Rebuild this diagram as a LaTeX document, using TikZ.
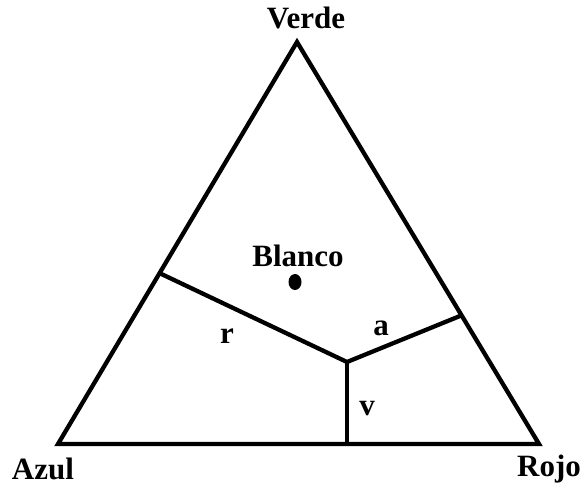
\documentclass[tikz,border=0pt]{standalone}
\usepackage{fontspec}
\setmainfont{Liberation Serif}
\usepackage{tikz}
\usetikzlibrary{positioning,calc}

\begin{document}
\begin{tikzpicture}[x=1pt, y=-1pt, every node/.style={font=\bfseries\fontsize{31}{36}\selectfont, inner sep=0pt, anchor=base}]
\useasboundingbox (0,0) rectangle (585,486);
% corners of the triangle
\coordinate (verdeC) at (297,42);
\coordinate (azulC) at (58,444);
\coordinate (rojoC) at (539,444);
\draw[line width=4.3pt, line join=miter] (azulC) -- (verdeC) -- (rojoC) -- cycle;
\foreach \name/\label/\x/\y in {verde/Verde/306/29,azul/Azul/43/479,rojo/Rojo/549/476}{
  \node (\name) at (\x,\y) {\label};
}
% boundaries between the regions
\coordinate (mid) at (347,362);
\coordinate (left) at ($(azulC)!0.425!(verdeC)$);
\coordinate (right) at ($(rojoC)!0.32!(verdeC)$);
\coordinate (bottom) at (mid |- azulC);
\draw[line width=4.3pt] (left) -- (mid) -- (right);
\draw[line width=4.3pt] (mid) -- (bottom);
\node (blanco) at (298,266) {Blanco};
\fill (295,282) ellipse (6.5pt and 8pt);
\node (r) at (227,343) {r};
\node (a) at (381,335) {a};
\node (v) at (367,415) {v};
\end{tikzpicture}
\end{document}
